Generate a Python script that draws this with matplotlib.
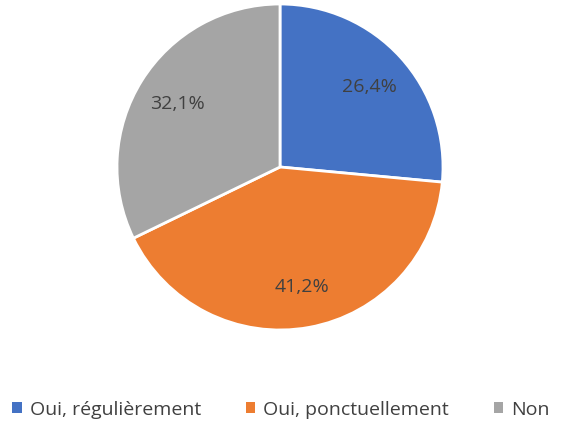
import matplotlib.pyplot as plt
import numpy as np
from matplotlib.patches import Patch

categories = ["Oui, régulièrement", "Oui, ponctuellement", "Non"]
values = [26.4, 41.2, 32.1]
labels = ["26,4%", "41,2%", "32,1%"]
colors = ["#4472C4", "#ED7D31", "#A5A5A5"]

plt.rcParams["font.family"] = ["Open Sans", "DejaVu Sans"]

fig = plt.figure(figsize=(5.62, 4.27), dpi=100)
ax = fig.add_axes([(280 - 163) / 562, 1 - (168 + 163) / 427, 326 / 562, 326 / 427])

wedges, _ = ax.pie(
    values,
    colors=colors,
    startangle=90,
    counterclock=False,
    radius=1.0,
    wedgeprops=dict(edgecolor="white", linewidth=2),
)
for w, lab in zip(wedges, labels):
    ang = np.deg2rad((w.theta1 + w.theta2) / 2)
    ax.text(0.74 * np.cos(ang), 0.74 * np.sin(ang), lab,
            ha="center", va="center", fontsize=14, color="#404040")
ax.set_aspect("equal")
ax.set_xlim(-1.0, 1.0)
ax.set_ylim(-1.0, 1.0)

handles = [Patch(facecolor=c, edgecolor="none") for c in colors]
fig.legend(handles, categories, loc="center", bbox_to_anchor=(0.5, 1 - 410 / 427),
           ncol=3, frameon=False, fontsize=14, handlelength=0.5, handleheight=0.5,
           handletextpad=0.4, columnspacing=2.3, labelcolor="#404040")

fig.savefig("out.png", dpi=100)
